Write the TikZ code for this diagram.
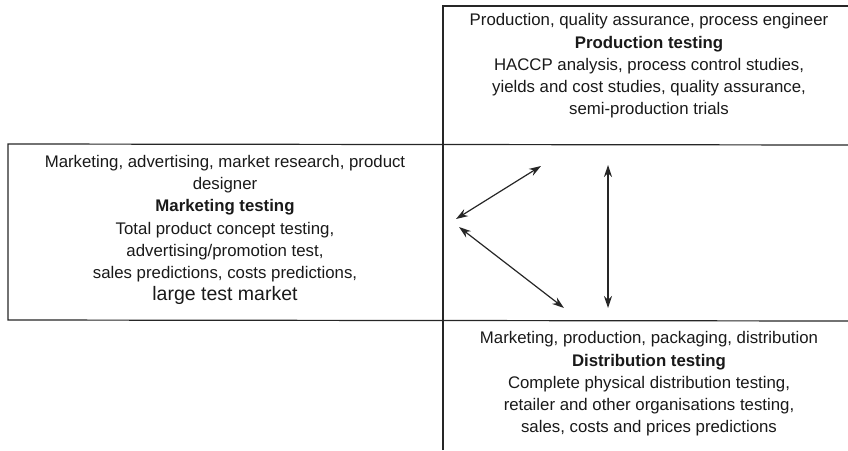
\documentclass[tikz,border=0pt]{standalone}
\usepackage{fontspec}
\setmainfont{Liberation Sans}
\usetikzlibrary{arrows.meta}
\begin{document}
\begin{tikzpicture}[x=1pt,y=-1pt,
  frame/.style={line width=1.2pt, black!85},
  blocktext/.style={align=center, inner sep=0pt, font=\fontsize{16.8}{22.3}\selectfont, text=black!90},
  dblarrow/.style={line width=1.2pt, black!85, {Stealth[length=12pt,width=8pt]}-{Stealth[length=12pt,width=8pt]}}
]
\useasboundingbox (0,0) rectangle (848,450);
% frame lines
\draw[frame] (443,450) -- (443,6) -- (848,6);
\draw[frame] (848,145) -- (8,144) -- (8,320) -- (848,321);
% texts
\node[blocktext] (prod) at (649,66) {Production, quality assurance, process engineer\\
  \textbf{Production testing}\\
  HACCP analysis, process control studies,\\
  yields and cost studies, quality assurance,\\
  semi-production trials};
\node[blocktext] (mark) at (225,230) {Marketing, advertising, market research, product\\
  designer\\
  \textbf{Marketing testing}\\
  Total product concept testing,\\
  advertising/promotion test,\\
  sales predictions, costs predictions,\\
  {\fontsize{19.5}{22.3}\selectfont large test market}};
\node[blocktext] (dist) at (649,384) {Marketing, production, packaging, distribution\\
  \textbf{Distribution testing}\\
  Complete physical distribution testing,\\
  retailer and other organisations testing,\\
  sales, costs and prices predictions};
% arrows
\coordinate (a1) at (541,166);
\coordinate (a2) at (456,219);
\coordinate (b1) at (459,227);
\coordinate (b2) at (564,308);
\coordinate (c1) at (608,165);
\coordinate (c2) at (608,308);
\draw[dblarrow] (a1) -- (a2);
\draw[dblarrow] (b1) -- (b2);
\draw[dblarrow] (c1) -- (c2);
\end{tikzpicture}
\end{document}
